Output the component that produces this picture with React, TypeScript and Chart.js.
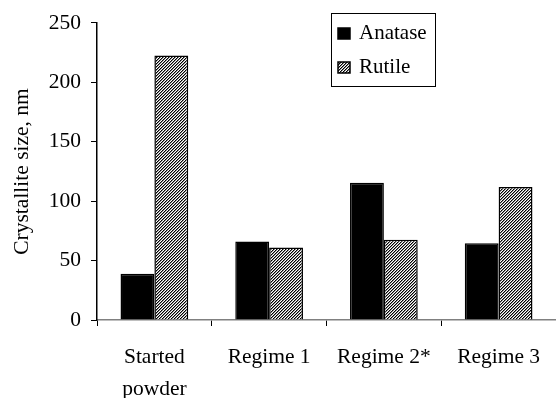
import React, { useEffect, useRef } from "react";
import { Chart, registerables } from "chart.js";

Chart.register(...registerables);

const categories: (string | string[])[] = [["Started", "powder"], "Regime 1", "Regime 2*", "Regime 3"];
const anatase = [39, 66, 115.5, 64.5];
const rutile = [222.5, 61, 67.5, 112];
const seriesNames = ["Anatase", "Rutile"];
const yTicks = [0, 50, 100, 150, 200, 250];
const yTitle = "Crystallite size, nm";

const FONT = "'Liberation Serif', 'Times New Roman', serif";

function makeHatch(): CanvasPattern | string {
  const c = document.createElement("canvas");
  c.width = 3;
  c.height = 3;
  const ctx = c.getContext("2d");
  if (!ctx) return "#888";
  ctx.fillStyle = "#ffffff";
  ctx.fillRect(0, 0, 3, 3);
  for (let x = 0; x < 3; x++) {
    for (let y = 0; y < 3; y++) {
      const k = (x + y) % 3;
      if (k === 0) {
        ctx.fillStyle = "#000000";
        ctx.fillRect(x, y, 1, 1);
      } else if (k === 1) {
        ctx.fillStyle = "#8a8a8a";
        ctx.fillRect(x, y, 1, 1);
      }
    }
  }
  const p = ctx.createPattern(c, "repeat");
  return p || "#888";
}

const legendPlugin = {
  id: "boxLegend",
  afterDraw(chart: any) {
    const ctx = chart.ctx;
    const x = 331, y = 13, w = 104, h = 73;
    ctx.save();
    ctx.fillStyle = "#fff";
    ctx.fillRect(x, y, w, h);
    ctx.strokeStyle = "#000";
    ctx.lineWidth = 1;
    ctx.strokeRect(x + 0.5, y + 0.5, w, h);
    const rows = [28, 62];
    chart.data.datasets.forEach((ds: any, i: number) => {
      const ry = rows[i];
      ctx.fillStyle = ds.backgroundColor;
      ctx.fillRect(338, ry, 12, 11);
      ctx.strokeStyle = "#000";
      ctx.lineWidth = 1.5;
      ctx.strokeRect(338, ry, 12, 11);
      ctx.fillStyle = "#000";
      ctx.font = `21px ${FONT}`;
      ctx.textBaseline = "alphabetic";
      ctx.textAlign = "left";
      ctx.fillText(ds.label, 359, ry + 11);
    });
    ctx.restore();
  },
};

export default function App() {
  const ref = useRef<HTMLCanvasElement | null>(null);
  useEffect(() => {
    document.body.style.margin = "0";
    if (!ref.current) return;
    const hatch = makeHatch();
    const chart = new Chart(ref.current, {
      type: "bar",
      data: {
        labels: categories,
        datasets: [
          {
            label: seriesNames[0],
            data: anatase,
            backgroundColor: "#000000",
            borderColor: "#000000",
            borderWidth: 1.5,
            categoryPercentage: 0.59,
            barPercentage: 1.0,
          },
          {
            label: seriesNames[1],
            data: rutile,
            backgroundColor: hatch as any,
            borderColor: "#000000",
            borderWidth: 1.5,
            categoryPercentage: 0.59,
            barPercentage: 1.0,
          },
        ],
      },
      options: {
        responsive: false,
        animation: false,
        layout: { padding: { top: 20, left: 0, right: 0, bottom: 0 } },
        plugins: {
          legend: { display: false },
          tooltip: { enabled: false },
        },
        scales: {
          x: {
            grid: {
              display: true,
              offset: true,
              drawOnChartArea: false,
              drawTicks: true,
              tickLength: 6,
              color: "#000",
            },
            border: { display: true, color: "#808080", width: 1.5 },
            ticks: {
              color: "#000",
              font: { family: FONT, size: 21.5, lineHeight: 1.5 },
              padding: 15,
              maxRotation: 0,
              autoSkip: false,
            },
            afterFit: (s: any) => {
              s.height = 78;
            },
          },
          y: {
            min: 0,
            max: 250,
            afterBuildTicks: (s: any) => {
              s.ticks = yTicks.map((v) => ({ value: v }));
            },
            grid: {
              display: true,
              drawOnChartArea: false,
              drawTicks: true,
              tickLength: 6,
              color: "#000",
            },
            border: { display: true, color: "#000", width: 1.5 },
            ticks: {
              color: "#000",
              font: { family: FONT, size: 21.5 },
              padding: 10,
            },
            title: {
              display: true,
              text: yTitle,
              color: "#000",
              font: { family: FONT, size: 21.5 },
              padding: { top: 9, bottom: 0 },
            },
            afterFit: (s: any) => {
              s.width = 97;
            },
          },
        },
      },
      plugins: [legendPlugin],
    });
    return () => chart.destroy();
  }, []);
  return (
    <div style={{ width: 556, height: 398, background: "#fff" }}>
      <canvas ref={ref} width={556} height={398} />
    </div>
  );
}
